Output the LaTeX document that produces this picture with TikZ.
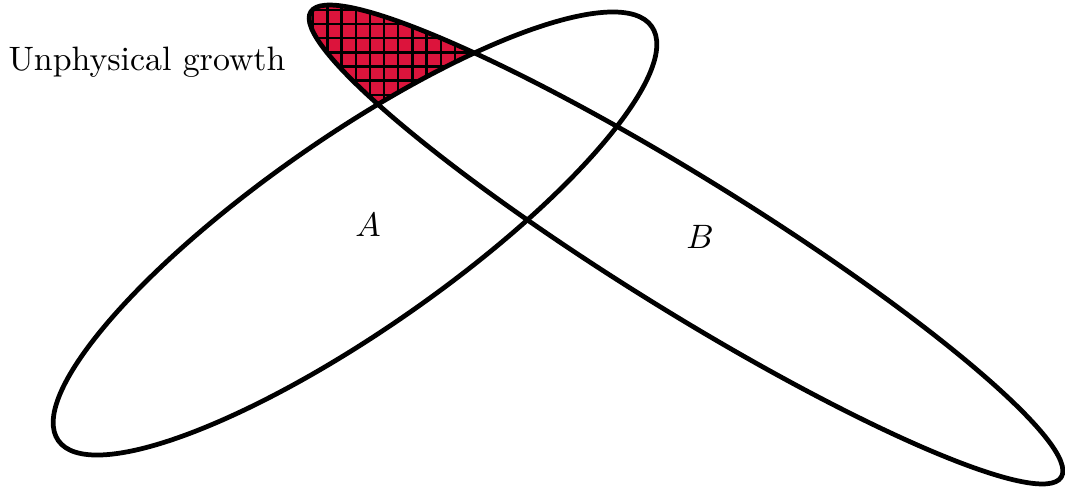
\documentclass[tikz,border=0pt]{standalone}
\usepackage{tikz}
\usetikzlibrary{positioning}
\definecolor{crimson}{RGB}{220,20,60}

\begin{document}
\begin{tikzpicture}[x=0.01037cm, y=-0.01037cm]
    \tikzset{venn/.style = {line width=1.4pt}}
    \tikzset{gridline/.style = {line width=0.7pt, step=0.147cm}}
    \tikzset{ellA/.style = {x radius=3.754cm, y radius=0.996cm, rotate=34.9}}
    \tikzset{ellB/.style = {x radius=4.581cm, y radius=0.69cm, rotate=-31.8}}
    \useasboundingbox (0,0) rectangle (1065,486);

    \coordinate (cA) at (355,233.5);
    \coordinate (cB) at (686,244.5);

    % part of B lying outside A, upper left tip only
    \begin{scope}[even odd rule]
        \clip (cB) ellipse [ellB];
        \clip (0,0) rectangle (1065,486) (cA) ellipse [ellA];
        \fill[crimson] (0,0) rectangle (520,150);
        \draw[gridline, shift={(1.5,9.8)}] (0,150) grid (520,-20);
    \end{scope}

    \draw[venn] (cA) ellipse [ellA];
    \draw[venn] (cB) ellipse [ellB];

    \node (unphys) at (147,62) {Unphysical growth};
    \node (labA) at (368,225) {$A$};
    \node (labB) at (700,237) {$B$};
\end{tikzpicture}
\end{document}
